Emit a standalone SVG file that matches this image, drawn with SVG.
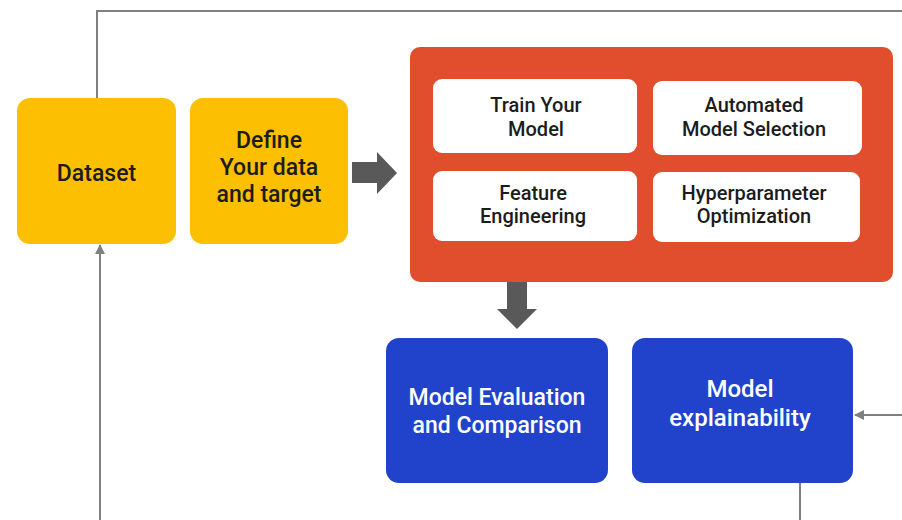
<svg xmlns="http://www.w3.org/2000/svg" width="902" height="520" viewBox="0 0 902 520">
<defs>
<style>
.y{fill:#FCBF01}
.r{fill:#E04E2E}
.w{fill:#FFFFFF}
.b{fill:#2143CC}
.t{font-family:Roboto,"Liberation Sans",sans-serif;font-weight:500;text-anchor:middle}
.dk{fill:#1C1C1C}
.wt{fill:#FFFFFF}
.ln{fill:none;stroke:#808080;stroke-width:2}
.big{fill:#595959}
</style>
<marker id="ah" viewBox="0 0 10 10" refX="9" refY="5" markerWidth="5" markerHeight="5" orient="auto" markerUnits="strokeWidth">
<path d="M0,0 L10,5 L0,10 Z" fill="#808080"/>
</marker>
</defs>
<rect width="902" height="520" fill="#FFFFFF"/>
<g id="connectors">
<path class="ln" d="M97,98 V11 H902"/>
<path class="ln" d="M100,520 V245" marker-end="url(#ah)"/>
<path class="ln" d="M902,415 H855" marker-end="url(#ah)"/>
<path class="ln" d="M800,483 V520"/>
<path class="big" d="M352,162 H377 V152 L397,173 L377,194 V183 H352 Z"/>
<path class="big" d="M507,282 V309 H497 L517,329 L537,309 H527 V282 Z"/>
</g>
<g id="dataset">
<rect class="y" x="17" y="98" width="159" height="146" rx="13"/>
<text class="t dk" x="96.5" y="181" font-size="23">Dataset</text>
</g>
<g id="define">
<rect class="y" x="190" y="98" width="158" height="146" rx="13"/>
<text class="t dk" font-size="23"><tspan x="269" y="148">Define</tspan><tspan x="269" y="175">Your data</tspan><tspan x="269" y="202">and target</tspan></text>
</g>
<g id="modeling">
<rect class="r" x="410" y="47" width="483" height="235" rx="10"/>
</g>
<g id="train">
<rect class="w" x="433" y="79" width="204" height="74" rx="9"/>
<text class="t dk" font-size="20"><tspan x="536" y="112">Train Your</tspan><tspan x="536" y="136">Model</tspan></text>
</g>
<g id="automated">
<rect class="w" x="653" y="81" width="209" height="74" rx="9"/>
<text class="t dk" font-size="20"><tspan x="754" y="112">Automated</tspan><tspan x="754" y="136">Model Selection</tspan></text>
</g>
<g id="feature">
<rect class="w" x="433" y="171" width="204" height="70" rx="9"/>
<text class="t dk" font-size="20"><tspan x="533" y="200">Feature</tspan><tspan x="533" y="223">Engineering</tspan></text>
</g>
<g id="hyper">
<rect class="w" x="653" y="172" width="207" height="70" rx="9"/>
<text class="t dk" font-size="20"><tspan x="754" y="200">Hyperparameter</tspan><tspan x="754" y="223">Optimization</tspan></text>
</g>
<g id="evaluation">
<rect class="b" x="386" y="338" width="222" height="145" rx="13"/>
<text class="t wt" font-size="23"><tspan x="497" y="405">Model Evaluation</tspan><tspan x="497" y="433">and Comparison</tspan></text>
</g>
<g id="explainability">
<rect class="b" x="632" y="338" width="221" height="145" rx="13"/>
<text class="t wt" font-size="24"><tspan x="740" y="397">Model</tspan><tspan x="740" y="426">explainability</tspan></text>
</g>
</svg>
